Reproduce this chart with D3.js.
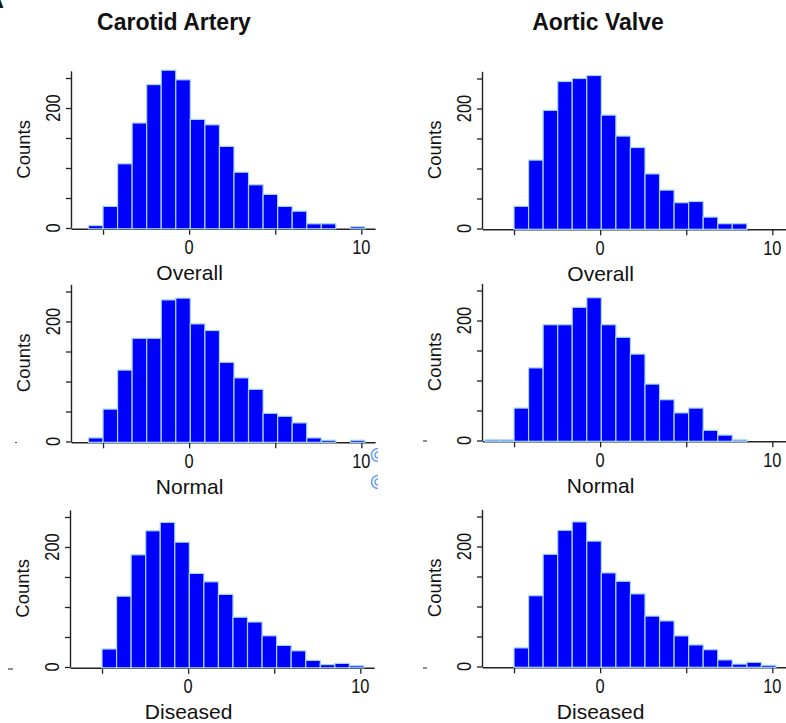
<!DOCTYPE html>
<html>
<head>
<meta charset="utf-8">
<script src="https://cdn.jsdelivr.net/npm/d3@7"></script>
<style>
  html, body { margin: 0; padding: 0; background: #fff; }
  svg { display: block; }
  text { font-family: "Liberation Sans", Arial, sans-serif; fill: #111; }
</style>
</head>
<body>
<svg id="chart" width="786" height="723"></svg>
<script>
// Histogram bins: start and width (in score units), 20 bins each
const binStart = -6.69;
const binWidth = 0.845;

// Counts per bin
const carotidOverall  = [0, 4, 36, 107, 175, 239, 263, 247, 181, 172, 136, 93, 72, 56, 36, 28, 7, 7, 0, 2];
const aorticOverall   = [0, 0, 37, 114, 197, 245, 250, 255, 189, 154, 135, 91, 64, 43, 45, 19, 8, 8, 0, 0];
const carotidNormal   = [0, 6, 54, 119, 172, 172, 236, 239, 196, 185, 132, 106, 87, 47, 42, 31, 6, 2, 0, 2];
const aorticNormal    = [1, 1, 54, 121, 193, 193, 222, 238, 193, 172, 144, 94, 68, 46, 54, 17, 9, 1, 0, 0];
const carotidDiseased = [0, 0, 30, 118, 187, 227, 241, 208, 156, 142, 121, 83, 75, 52, 36, 27, 11, 4, 6, 2];
const aorticDiseased  = [0, 0, 31, 118, 187, 227, 241, 209, 156, 142, 121, 84, 76, 51, 36, 28, 11, 4, 7, 2];

// Column titles and panel captions
const columnTitles = ["Carotid Artery", "Aortic Valve"];
const panelLabels = ["Overall", "Normal", "Diseased"];

// Axis ticks
const xTicks = [-5, 0, 5, 10];
const xTickLabels = [0, 10];
const yTicks = [0, 50, 100, 150, 200, 250];
const yTickLabels = [0, 200];
const xDomain = [-6.86, 10.8];
const yDomain = [0, 262];

const svg = d3.select("#chart");

// Panel placement: y-axis x position and zero-count baseline
const panels = [
  { data: carotidOverall,  label: panelLabels[0], ax: 71,  y0: 228 },
  { data: aorticOverall,   label: panelLabels[0], ax: 482, y0: 228.5 },
  { data: carotidNormal,   label: panelLabels[1], ax: 71,  y0: 441.5 },
  { data: aorticNormal,    label: panelLabels[1], ax: 482, y0: 440.5 },
  { data: carotidDiseased, label: panelLabels[2], ax: 70,  y0: 667 },
  { data: aorticDiseased,  label: panelLabels[2], ax: 482, y0: 666.5 }
];

const pxPerUnit = 17.22;
const pxPerCount = 0.6;

// Partially visible figure letter
svg.append("text")
  .attr("x", -12).attr("y", 8)
  .style("font-size", "22px").style("font-weight", "bold")
  .text("A");

// Column titles
[174, 598].forEach((cx, i) => {
  svg.append("text")
    .attr("x", cx).attr("y", 30)
    .attr("text-anchor", "middle")
    .style("font-size", "23px").style("font-weight", "bold")
    .text(columnTitles[i]);
});

panels.forEach(p => {
  const x = d3.scaleLinear()
    .domain(xDomain)
    .range([p.ax, p.ax + (xDomain[1] - xDomain[0]) * pxPerUnit]);
  const y = d3.scaleLinear()
    .domain(yDomain)
    .range([p.y0, p.y0 - (yDomain[1] - yDomain[0]) * pxPerCount]);

  const g = svg.append("g");

  // x axis
  const gx = g.append("g")
    .attr("transform", `translate(0,${p.y0 + 0.8})`)
    .call(d3.axisBottom(x).tickValues(xTicks).tickFormat(() => "").tickSizeInner(6).tickSizeOuter(0));
  // y axis
  const gy = g.append("g")
    .attr("transform", `translate(${p.ax},0)`)
    .call(d3.axisLeft(y).tickValues(yTicks).tickFormat(() => "").tickSizeInner(5).tickSizeOuter(0));
  [gx, gy].forEach(a => {
    a.select(".domain").attr("stroke", "#222").attr("stroke-width", 1.4);
    a.selectAll(".tick line").attr("stroke", "#222").attr("stroke-width", 1.3);
  });

  // bars
  const bins = p.data.map((c, i) => ({ x0: binStart + i * binWidth, x1: binStart + (i + 1) * binWidth, c }))
    .filter(b => b.c > 0);
  g.append("g").selectAll("rect")
    .data(bins)
    .join("rect")
    .attr("x", b => x(b.x0))
    .attr("width", b => x(b.x1) - x(b.x0))
    .attr("y", b => y(b.c))
    .attr("height", b => y(0) - y(b.c) + 0.8)
    .attr("fill", "#0000ff")
    .attr("stroke", "#a3d8f4")
    .attr("stroke-width", 1.2);

  // x tick labels
  g.selectAll("text.xl")
    .data(xTickLabels)
    .join("text")
    .attr("class", "xl")
    .attr("text-anchor", "middle")
    .attr("transform", d => `translate(${x(d)},${p.y0 + 26}) scale(0.8,1)`)
    .style("font-size", "20.5px")
    .text(d => d);

  // y tick labels (rotated)
  g.selectAll("text.yl")
    .data(yTickLabels)
    .join("text")
    .attr("class", "yl")
    .attr("text-anchor", "middle")
    .attr("transform", d => `translate(${p.ax - 11.5},${y(d)}) rotate(-90) scale(0.8,1)`)
    .style("font-size", "20.5px")
    .text(d => d);

  // y axis title
  g.append("text")
    .attr("text-anchor", "middle")
    .attr("transform", `translate(${p.ax - 41},${y(131)}) rotate(-90)`)
    .style("font-size", "18.5px")
    .text("Counts");

  // panel caption
  g.append("text")
    .attr("text-anchor", "middle")
    .attr("x", x(0) + 0.5)
    .attr("y", p.y0 + 52)
    .style("font-size", "21px")
    .text(p.label);
});

// stray marks left of some baselines
[[15, 442.5, 17, 442.5], [423, 441, 427, 441], [8, 669, 13, 669], [423, 668, 427, 668]].forEach(s => {
  svg.append("line")
    .attr("x1", s[0]).attr("y1", s[1]).attr("x2", s[2]).attr("y2", s[3])
    .attr("stroke", "#444").attr("stroke-width", 1.2);
});

// small ring icons at the edge of the left column
const clip = svg.append("defs").append("clipPath").attr("id", "leftcol");
clip.append("rect").attr("x", 0).attr("y", 0).attr("width", 378).attr("height", 723);
const icons = svg.append("g").attr("clip-path", "url(#leftcol)");
[455, 482].forEach(cy => {
  icons.append("circle").attr("cx", 378).attr("cy", cy).attr("r", 6.5)
    .attr("fill", "none").attr("stroke", "#6f9ff2").attr("stroke-width", 1.6);
  icons.append("circle").attr("cx", 378).attr("cy", cy).attr("r", 3)
    .attr("fill", "none").attr("stroke", "#6f9ff2").attr("stroke-width", 1.4);
});
</script>
</body>
</html>
